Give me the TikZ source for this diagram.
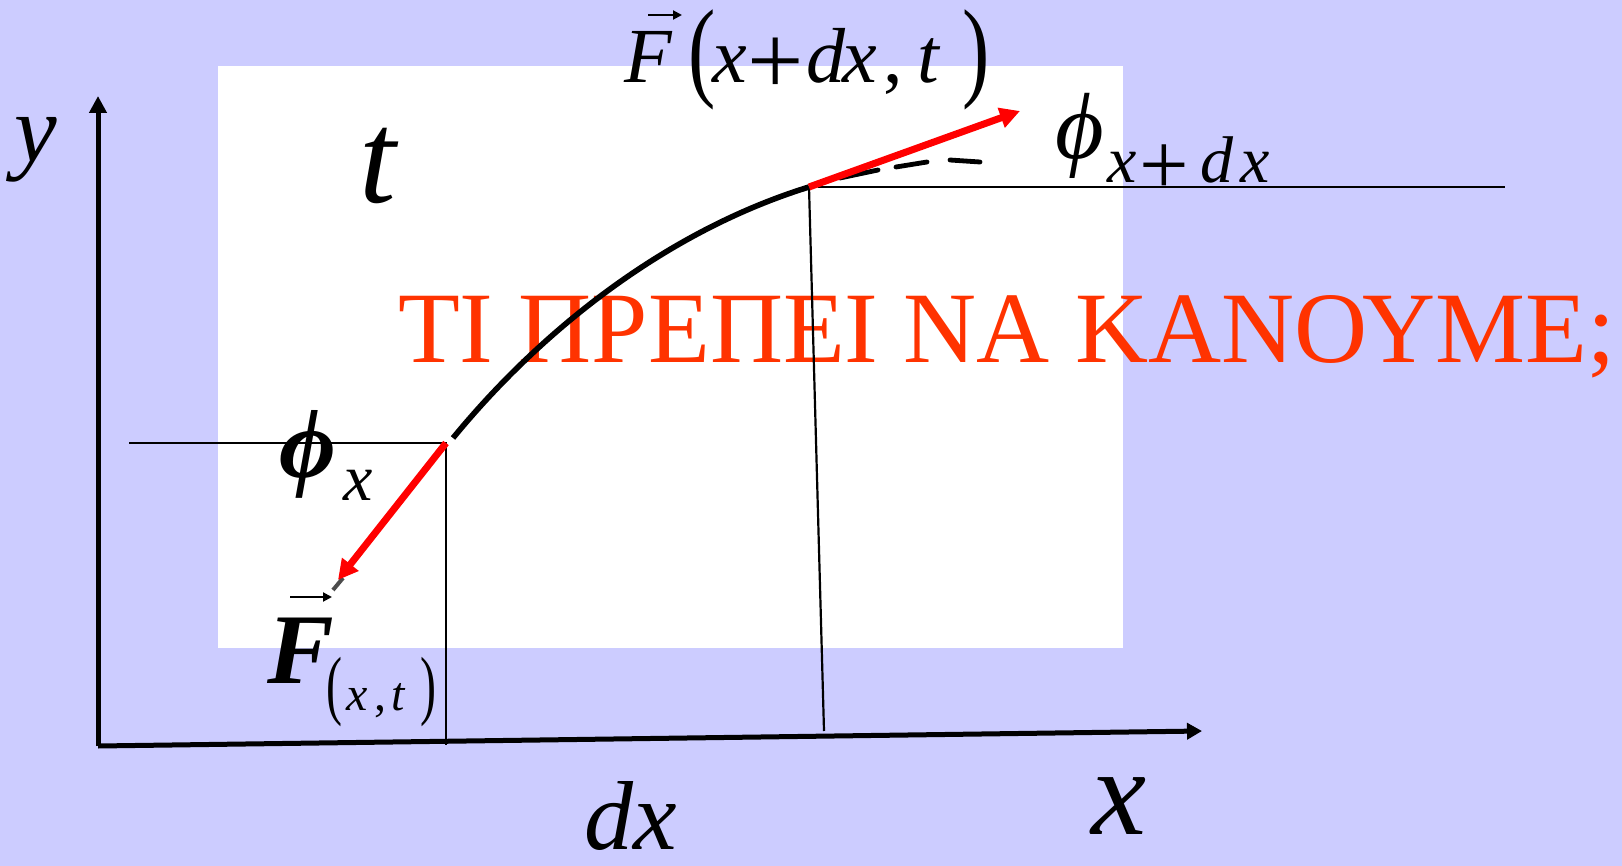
\documentclass[tikz,border=0pt]{standalone}
\usepackage{graphicx}
\usepackage{fontspec}
\setmainfont{Liberation Serif}
\usetikzlibrary{arrows.meta}
\definecolor{bgc}{HTML}{CCCCFF}
\definecolor{greektxt}{HTML}{FF3300}
\definecolor{vecred}{HTML}{FF0000}
\newcommand{\fsz}[1]{\fontsize{#1}{#1}\selectfont}
\begin{document}
\begin{tikzpicture}[x=0.5pt,y=-0.5pt,
  lbl/.style={inner sep=0pt,outer sep=0pt,anchor=base},
  plusnode/.style={inner sep=0pt,outer sep=0pt,anchor=center},
  axis/.style={line width=2.5pt,-{Triangle[length=8.5pt,width=8.5pt]}},
  guide/.style={line width=1.1pt},
  redvec/.style={line width=3.5pt,vecred,-{Triangle[length=10pt,width=10pt]}},
  curvestyle/.style={line width=2.8pt,black},
  dashseg/.style={line width=2.4pt,black,line cap=round},
  overarrow/.style={line width=1pt,-{Triangle[length=4.5pt,width=4.5pt]}}]
\useasboundingbox (0,0) rectangle (1622,866);
\fill[bgc] (0,0) rectangle (1622,866);
\fill[white] (218,66) rectangle (1123,648);

% coordinates
\coordinate (O) at (98,746);
\coordinate (Ytip) at (98,96);
\coordinate (Xtip) at (1202,731);
\coordinate (A) at (446,443);
\coordinate (Aleft) at (129,443);
\coordinate (Abot) at (446,745);
\coordinate (B) at (809,187);
\coordinate (Bline) at (818,187);
\coordinate (Bright) at (1505,187);
\coordinate (Bbot) at (824,731);
\coordinate (Atip) at (338,580);
\coordinate (Btip) at (1020,111);
\coordinate (C0) at (453,438);

% red question text (under the lines)
\node[lbl,anchor=base west,text=greektxt] (question) at (398,362)
  {\fsz{50.6pt}ΤΙ ΠΡΕΠΕΙ ΝΑ ΚΑΝΟΥΜΕ;};

% axes
\draw[axis] (O) -- (Ytip);
\draw[axis,-{Triangle[length=7.5pt,width=8pt]}] (O) -- (Xtip);

% guide lines
\draw[guide] (Aleft) -- (A) -- (Abot);
\draw[guide] (Bline) -- (Bright);
\draw[guide] (B) -- (Bbot);

% the string
\draw[curvestyle] (C0) .. controls (545,326) and (670,230) .. (B);
\draw[dashseg] (840,178) -- (878,170);
\draw[dashseg] (896,167) -- (927,162);
\draw[dashseg] (950,160) -- (980,162);
\draw[line width=2pt,black,opacity=0.7] (333,590) -- (343,578);

% force vectors
\draw[redvec] (B) -- (Btip);
\draw[redvec] (A) -- (Atip);

% axis labels
\node[lbl] (ylab) at (36,162) {\fsz{48pt}\itshape y};
\node[lbl] (xlab) at (1119,834) {\fsz{62pt}\itshape x};
\node[lbl] (dxlab) at (631,849) {\fsz{49pt}\itshape dx};
\node[lbl] (tlab) at (378,203) {\fsz{66pt}\itshape t};

% F(x+dx,t) on top
\node[lbl] (fF) at (648,83) {\fsz{39pt}\itshape F};
\node[lbl] (fLp) at (702,83) {\fsz{39pt}\raisebox{-2pt}{\scalebox{1.05}[1.42]{(}}};
\node[lbl] (fx1) at (730,83) {\fsz{39pt}\itshape x};
\node[plusnode] (fplus) at (776,66) {\fsz{50pt}+};
\node[lbl] (fd) at (826,83) {\fsz{39pt}\itshape d};
\node[lbl] (fx2) at (860,83) {\fsz{39pt}\itshape x};
\node[lbl] (fcomma) at (893,83) {\fsz{39pt},};
\node[lbl] (ft) at (928,83) {\fsz{39pt}\itshape t};
\node[lbl] (fRp) at (976,83) {\fsz{39pt}\raisebox{-2pt}{\scalebox{1.05}[1.42]{)}}};
\coordinate (fArrS) at (648,15);
\coordinate (fArrE) at (682,15);
\draw[overarrow] (fArrS) -- (fArrE);

% phi_{x+dx}
\node[lbl] (phiU) at (1080,159) {\fsz{47pt}\itshape ϕ};
\node[lbl] (sx1) at (1122,183) {\fsz{33pt}\itshape x};
\node[plusnode] (splus) at (1164,170) {\fsz{44pt}+};
\node[lbl] (sd) at (1217,183) {\fsz{33pt}\itshape d};
\node[lbl] (sx2) at (1255,183) {\fsz{33pt}\itshape x};

% phi_x
\node[lbl] (phiL) at (308,477) {\fsz{49pt}\bfseries\itshape ϕ};
\node[lbl] (phiLx) at (358,500) {\fsz{33pt}\itshape x};

% F_(x,t)
\node[lbl] (gF) at (301,683) {\fsz{50pt}\bfseries\itshape F};
\coordinate (gArrS) at (290,597);
\coordinate (gArrE) at (332,597);
\draw[overarrow] (gArrS) -- (gArrE);
\node[lbl] (gLp) at (334,710) {\fsz{24pt}\scalebox{1}[1.6]{(}};
\node[lbl] (gx) at (357,710) {\fsz{24pt}\itshape x};
\node[lbl] (gcomma) at (380,710) {\fsz{24pt},};
\node[lbl] (gt) at (398,710) {\fsz{24pt}\itshape t};
\node[lbl] (gRp) at (428,710) {\fsz{24pt}\scalebox{1}[1.6]{)}};
\end{tikzpicture}
\end{document}
